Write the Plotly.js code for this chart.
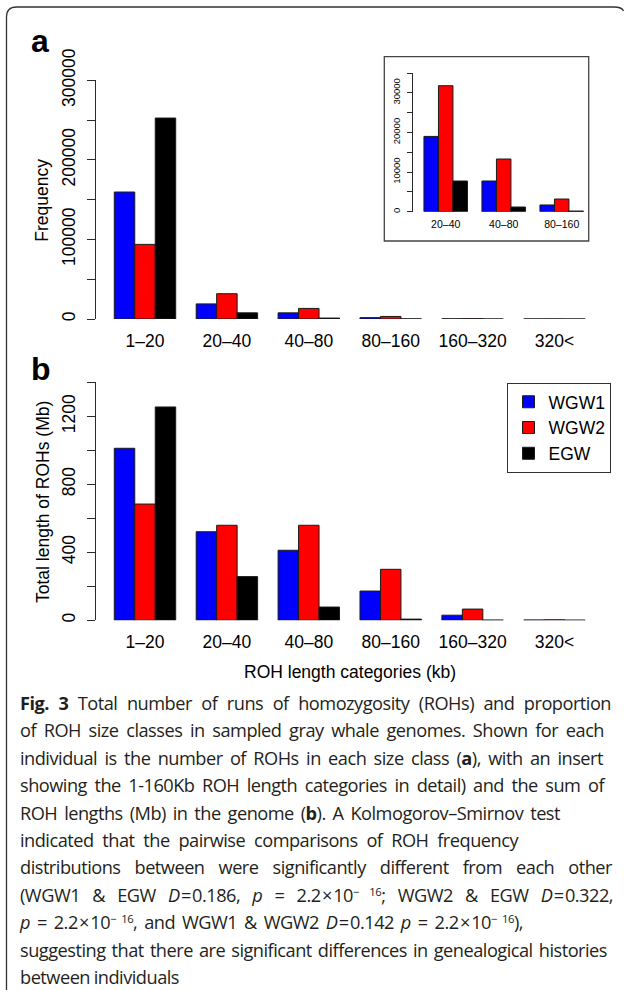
<!DOCTYPE html>
<html>
<head>
<meta charset="utf-8">
<script src="https://cdn.plot.ly/plotly-3.0.1.min.js"></script>
<style>
  html, body { margin: 0; padding: 0; background: #fff; }
  #wrap { position: relative; width: 624px; height: 990px; overflow: hidden; }
  #chart { position: absolute; left: 0; top: 0; width: 624px; height: 990px; }
  #cap { position: absolute; left: 20px; top: 690px; font-family: 'Open Sans', 'Noto Sans', sans-serif;
         font-size: 18.2px; line-height: 27.4px; color: #231f20; letter-spacing: -0.5px; word-spacing: -0.5px; }
  #cap .l { display: block; white-space: nowrap; text-align: justify; text-align-last: justify; }
  #cap .n { display: block; white-space: nowrap; }
  #cap sup { font-size: 0.62em; line-height: 0; vertical-align: 0.55em; }
</style>
</head>
<body>
<div id="wrap">
  <div id="chart"></div>
  <div id="cap">
    <span class="l" data-w="591"><b>Fig. 3</b> Total number of runs of homozygosity (ROHs) and proportion</span>
    <span class="l" data-w="584">of ROH size classes in sampled gray whale genomes. Shown for each</span>
    <span class="l" data-w="583">individual is the number of ROHs in each size class (<b>a</b>), with an insert</span>
    <span class="l" data-w="584">showing the 1-160Kb ROH length categories in detail) and the sum of</span>
    <span class="l" data-w="540">ROH lengths (Mb) in the genome (<b>b</b>). A Kolmogorov–Smirnov test</span>
    <span class="l" data-w="498">indicated that the pairwise comparisons of ROH frequency</span>
    <span class="l" data-w="592">distributions between were significantly different from each other</span>
    <span class="l" data-w="593">(WGW1 &amp; EGW <i>D</i>&#8202;=&#8202;0.186, <i>p</i> = 2.2&#8202;×&#8202;10<sup>− 16</sup>; WGW2 &amp; EGW <i>D</i>&#8202;=&#8202;0.322,</span>
    <span class="l" data-w="503"><i>p</i> = 2.2&#8202;×&#8202;10<sup>− 16</sup>, and WGW1 &amp; WGW2 <i>D</i>&#8202;=&#8202;0.142 <i>p</i> = 2.2&#8202;×&#8202;10<sup>− 16</sup>),</span>
    <span class="l" data-w="587">suggesting that there are significant differences in genealogical histories</span>
    <span class="n">between individuals</span>
  </div>
</div>
<script>
// ---- data ----
const categories = ['1–20', '20–40', '40–80', '80–160', '160–320', '320<'];
const insetCategories = ['20–40', '40–80', '80–160'];
const seriesNames = ['WGW1', 'WGW2', 'EGW'];

// Panel a: number of ROHs per size class
const freqWGW1 = [159600, 19000, 7750, 1700, 220, 60];
const freqWGW2 = [93800, 31800, 13300, 3200, 450, 120];
const freqEGW  = [252600, 7750, 1180, 170, 40, 15];

// Panel b: total length of ROHs (Mb)
const lenWGW1 = [1012, 521, 412, 172, 30, 2];
const lenWGW2 = [684, 559, 559, 300, 66, 3];
const lenEGW  = [1255, 257, 78, 7, 1.5, 1];

// ---- styling ----
const colors = ['#0000ff', '#ff0000', '#000000'];
const W = 624, H = 990;
const fx = p => p / W;
const fy = p => 1 - p / H;
const FONT = 'Liberation Sans, Arial, Helvetica, sans-serif';
const AX = '#2a2a2a';

const freqs = [freqWGW1, freqWGW2, freqEGW];
const lens = [lenWGW1, lenWGW2, lenEGW];
const insetIdx = insetCategories.map(c => categories.indexOf(c));

const barLine = { color: '#1a1a1a', width: 1 };
const traces = [];
seriesNames.forEach((name, k) => {
  traces.push({ type: 'bar', name, x: categories, y: freqs[k], xaxis: 'x', yaxis: 'y',
    marker: { color: colors[k], line: barLine }, showlegend: false, legendgroup: name });
});
seriesNames.forEach((name, k) => {
  traces.push({ type: 'bar', name, x: insetCategories, y: insetIdx.map(i => freqs[k][i]),
    xaxis: 'x3', yaxis: 'y3', marker: { color: colors[k], line: barLine }, showlegend: false, legendgroup: name });
});
seriesNames.forEach((name, k) => {
  traces.push({ type: 'bar', name, x: categories, y: lens[k], xaxis: 'x2', yaxis: 'y2',
    marker: { color: colors[k], line: barLine }, showlegend: true, legendgroup: name });
});

function yAxis(domain, range, dtick, minor, fs, tlen, standoff, anchor) {
  return {
    domain, range, dtick, tick0: 0, tickmode: 'linear', tickformat: 'd', tickangle: -90,
    showline: true, linecolor: AX, linewidth: 1, ticks: 'outside', ticklen: tlen, tickwidth: 1, tickcolor: AX,
    minor: { dtick: minor, tick0: 0, ticks: 'outside', ticklen: tlen, tickwidth: 1, tickcolor: AX, showgrid: false },
    showgrid: false, zeroline: false, fixedrange: true, anchor,
    tickfont: { family: FONT, size: fs, color: '#000' }, ticklabelstandoff: standoff
  };
}
function xAxis(domain, range, fs, standoff, anchor) {
  return {
    domain, range, type: 'category', showline: false, ticks: '', showgrid: false, zeroline: false,
    tickfont: { family: FONT, size: fs, color: '#000' }, ticklabelstandoff: standoff, anchor, fixedrange: true
  };
}

// main panels: category centres at 145 + 81.9*i px
const mainX = [fx(145 - 0.6 * 81.9), fx(145 + 5.6 * 81.9)];
const insetX = [fx(445.7 - 0.56 * 58), fx(445.7 + 2.5 * 58)];

const layout = {
  width: W, height: H, margin: { l: 0, r: 0, t: 0, b: 0 }, autosize: false,
  paper_bgcolor: 'rgba(0,0,0,0)', plot_bgcolor: 'rgba(0,0,0,0)',
  barmode: 'group', bargap: 0.25, bargroupgap: 0,
  font: { family: FONT, color: '#000' },
  xaxis: xAxis(mainX, [-0.6, 5.6], 17.5, 9, 'y'),
  yaxis: yAxis([fy(319), fy(80.33)], [0, 300001], 100000, 50000, 17.5, 8, 5, 'x'),
  xaxis2: xAxis(mainX, [-0.6, 5.6], 17.5, 9, 'y2'),
  yaxis2: yAxis([fy(620.3), fy(382.3)], [0, 1400.2], 400, 200, 17.5, 8, 5, 'x2'),
  xaxis3: xAxis(insetX, [-0.56, 2.5], 10.5, 5, 'y3'),
  yaxis3: yAxis([fy(211.7), fy(73)], [0, 35005], 10000, 5000, 9.5, 5, 3, 'x3'),
  legend: {
    x: fx(507.3), y: fy(382.7), xanchor: 'left', yanchor: 'top', xref: 'paper', yref: 'paper',
    bgcolor: '#fff', bordercolor: '#333', borderwidth: 1.2,
    font: { family: FONT, size: 17.5, color: '#000' }, traceorder: 'normal', tracegroupgap: 0
  },
  shapes: [
    // figure frame (rounded corners, cut at right/bottom like the reference)
    { type: 'path', xref: 'paper', yref: 'paper', line: { color: '#333', width: 1.3 },
      path: `M ${fx(6.5)} ${fy(990)} L ${fx(6.5)} ${fy(17)} Q ${fx(6.5)} ${fy(7)} ${fx(16.5)} ${fy(7)} L ${fx(614)} ${fy(7)} Q ${fx(622)} ${fy(7)} ${fx(623.5)} ${fy(11)}` },
    // inset box
    { type: 'rect', xref: 'paper', yref: 'paper', x0: fx(384.3), x1: fx(588.7), y0: fy(241), y1: fy(56.7),
      line: { color: '#444', width: 1.3 }, fillcolor: 'rgba(0,0,0,0)' }
  ],
  annotations: [
    { text: '<b>a</b>', xref: 'paper', yref: 'paper', x: fx(40), y: fy(41), showarrow: false,
      font: { family: FONT, size: 32, color: '#000' }, xanchor: 'center', yanchor: 'middle' },
    { text: '<b>b</b>', xref: 'paper', yref: 'paper', x: fx(41), y: fy(369), showarrow: false,
      font: { family: FONT, size: 32, color: '#000' }, xanchor: 'center', yanchor: 'middle' },
    { text: 'Frequency', xref: 'paper', yref: 'paper', x: fx(41.7), y: fy(200), showarrow: false, textangle: -90,
      font: { family: FONT, size: 17.5, color: '#000' }, xanchor: 'center', yanchor: 'middle' },
    { text: 'Total length of ROHs (Mb)', xref: 'paper', yref: 'paper', x: fx(43), y: fy(502), showarrow: false, textangle: -90,
      font: { family: FONT, size: 17.5, color: '#000' }, xanchor: 'center', yanchor: 'middle' },
    { text: 'ROH length categories (kb)', xref: 'paper', yref: 'paper', x: fx(349.5), y: fy(672), showarrow: false,
      font: { family: FONT, size: 17.5, color: '#000' }, xanchor: 'center', yanchor: 'middle' }
  ]
};

Plotly.newPlot('chart', traces, layout, { staticPlot: true, displayModeBar: false });

// fit caption lines: shrink letter spacing if a line is wider than its target, then justify
function fitCaption() {
  document.querySelectorAll('#cap .l').forEach(s => {
    const target = +s.dataset.w;
    s.style.display = 'inline-block';
    s.style.width = 'auto';
    s.style.textAlignLast = 'auto';
    s.style.letterSpacing = '';
    const nat = s.getBoundingClientRect().width;
    if (nat > target) {
      const base = parseFloat(getComputedStyle(s).letterSpacing) || 0;
      const n = s.textContent.length;
      s.style.letterSpacing = (base + (target - nat) / n) + 'px';
    }
    s.style.display = 'block';
    s.style.width = target + 'px';
    s.style.textAlignLast = 'justify';
  });
}
fitCaption();
if (document.fonts && document.fonts.ready) document.fonts.ready.then(fitCaption);
</script>
</body>
</html>
